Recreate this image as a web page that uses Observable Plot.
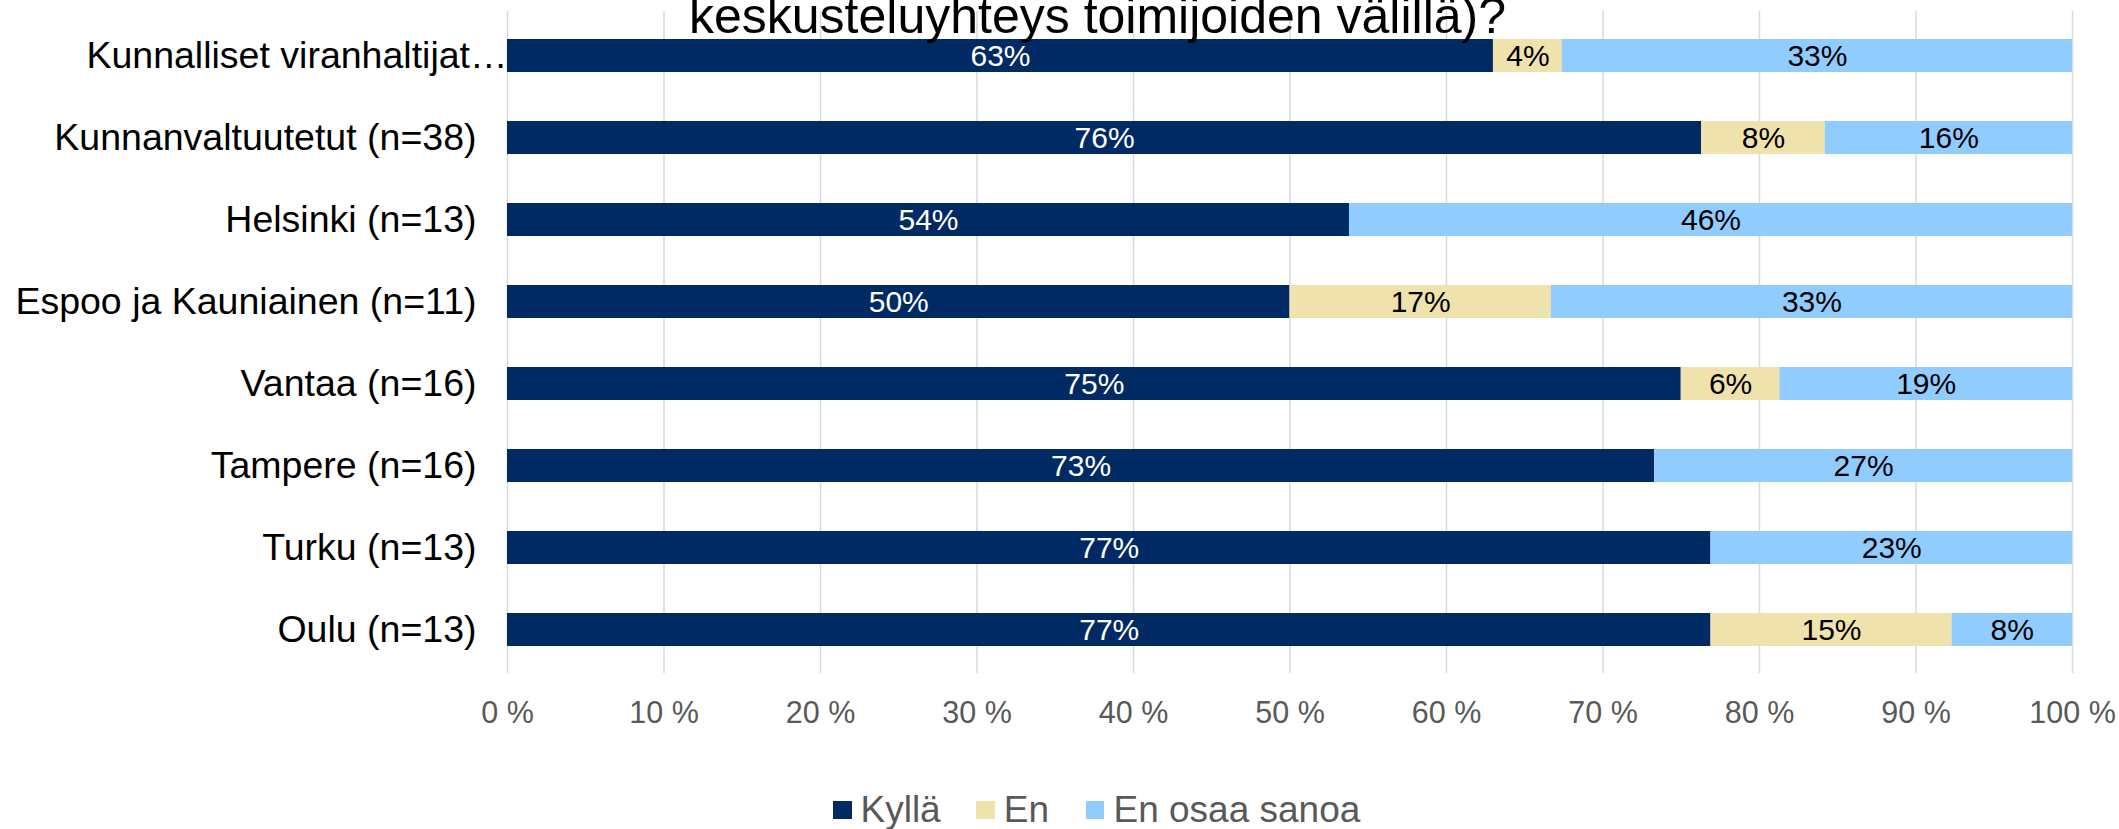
<!DOCTYPE html>
<html>
<head>
<meta charset="utf-8">
<script src="https://cdn.jsdelivr.net/npm/d3@7"></script>
<script src="https://cdn.jsdelivr.net/npm/@observablehq/plot@0.6"></script>
<style>
  html, body { margin: 0; padding: 0; background: #fff; overflow: hidden; }
  #wrap { position: relative; width: 2119px; height: 829px; font-family: "Liberation Sans", Arial, sans-serif; }
  #title { position: absolute; left: 689px; top: -9px; font-size: 50px; line-height: 50px; white-space: nowrap; color: #000; }
  #legend { position: absolute; left: 833px; top: 790px; height: 40px; display: flex; align-items: center; font-size: 37px; line-height: 40px; color: #595959; white-space: nowrap; }
  #legend .sw { width: 18.5px; height: 18.5px; display: inline-block; margin-right: 9px; }
  #legend .item { display: flex; align-items: center; }
  #chart { position: absolute; left: 0; top: 0; }
</style>
</head>
<body>
<div id="wrap">
  <div id="chart"></div>
  <div id="title"></div>
  <div id="legend"></div>
</div>
<script>
const titleLine = "keskusteluyhteys toimijoiden välillä)?";
const categories = [
  "Kunnalliset viranhaltijat…",
  "Kunnanvaltuutetut (n=38)",
  "Helsinki (n=13)",
  "Espoo ja Kauniainen (n=11)",
  "Vantaa (n=16)",
  "Tampere (n=16)",
  "Turku (n=13)",
  "Oulu (n=13)"
];
const seriesNames = ["Kyllä", "En", "En osaa sanoa"];
const kylla = [63.0, 76.3, 53.8, 50.0, 75.0, 73.3, 76.9, 76.9];
const en = [4.4, 7.9, 0, 16.7, 6.3, 0, 0, 15.4];
const enOsaaSanoa = [32.6, 15.8, 46.2, 33.3, 18.7, 26.7, 23.1, 7.7];
const xTicks = [0, 10, 20, 30, 40, 50, 60, 70, 80, 90, 100];
const colors = ["#002A64", "#F0E2AD", "#91CCFF"];

const seriesValues = [kylla, en, enOsaaSanoa];
const data = [];
categories.forEach((c, i) => {
  seriesNames.forEach((s, j) => {
    const v = seriesValues[j][i];
    if (v > 0) data.push({cat: c, series: s, value: v});
  });
});

document.getElementById("title").textContent = titleLine;

const font = '"Liberation Sans", Arial, sans-serif';
const label = d => Math.round(d.value) + "%";
const plot = Plot.plot({
  width: 2119,
  height: 760,
  marginLeft: 507,
  marginRight: 47,
  marginTop: 11,
  marginBottom: 87,
  style: {fontFamily: font, fontSize: "30px", background: "transparent", overflow: "visible"},
  x: {domain: [0, 100], axis: null, label: null},
  y: {domain: categories, paddingInner: 0.6, paddingOuter: 0.3, axis: null, label: null},
  color: {domain: seriesNames, range: colors},
  marks: [
    Plot.gridX(xTicks, {stroke: "#D9D9D9", strokeOpacity: 1, strokeWidth: 1.5}),
    Plot.barX(data, {x: "value", y: "cat", fill: "series"}),
    Plot.text(data, Plot.stackX({
      x: "value", y: "cat", z: "series",
      text: d => d.series === "Kyllä" ? label(d) : "",
      fill: "white", fontSize: 30
    })),
    Plot.text(data, Plot.stackX({
      x: "value", y: "cat", z: "series",
      text: d => d.series !== "Kyllä" ? label(d) : "",
      fill: "black", fontSize: 30
    })),
    Plot.axisX({ticks: xTicks, tickFormat: d => d + " %", tickSize: 0, tickPadding: 28, fontSize: 30.5, fill: "#595959", color: "#595959", label: null}),
    Plot.axisY({ticks: categories.slice(1), tickSize: 0, tickPadding: 31, fontSize: 37.5, fill: "#000", color: "#000", label: null}),
    Plot.axisY({ticks: [categories[0]], tickSize: 0, tickPadding: 0, fontSize: 37.5, fill: "#000", color: "#000", label: null})
  ]
});
document.getElementById("chart").appendChild(plot);

const legend = document.getElementById("legend");
const gaps = [35.5, 37, 0];
seriesNames.forEach((s, i) => {
  const item = document.createElement("div");
  item.className = "item";
  item.style.marginRight = gaps[i] + "px";
  const sw = document.createElement("span");
  sw.className = "sw";
  sw.style.background = colors[i];
  const t = document.createElement("span");
  t.textContent = s;
  item.appendChild(sw);
  item.appendChild(t);
  legend.appendChild(item);
});
</script>
</body>
</html>
